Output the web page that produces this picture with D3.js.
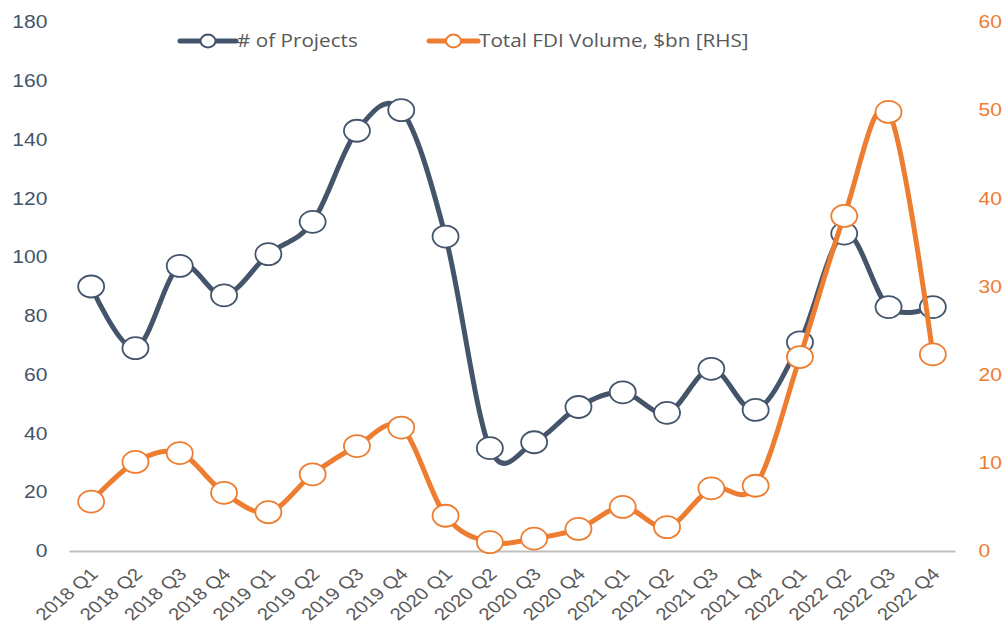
<!DOCTYPE html>
<html>
<head>
    <meta charset="utf-8">
    <style>
        body { margin: 0; background: #fff; }
        svg { display: block; font-family: "Open Sans", sans-serif; }
    </style>
</head>
<body>
    <svg width="1008" height="626"></svg>
    <script src="https://cdn.jsdelivr.net/npm/d3@7"></script>
    <script>

    var quarters = ["2018 Q1", "2018 Q2", "2018 Q3", "2018 Q4",
                    "2019 Q1", "2019 Q2", "2019 Q3", "2019 Q4",
                    "2020 Q1", "2020 Q2", "2020 Q3", "2020 Q4",
                    "2021 Q1", "2021 Q2", "2021 Q3", "2021 Q4",
                    "2022 Q1", "2022 Q2", "2022 Q3", "2022 Q4"];

    var projects = [90, 69, 97, 87, 101, 112, 143, 150, 107, 35,
                    37, 49, 54, 47, 62, 48, 71, 108, 83, 83];

    var fdiVolume = [5.6, 10.1, 11.1, 6.6, 4.4, 8.7, 11.9, 14.0, 4.0, 1.0,
                     1.4, 2.5, 5.0, 2.7, 7.1, 7.4, 22.0, 38.0, 49.8, 22.3];

    var leftTicks = [0, 20, 40, 60, 80, 100, 120, 140, 160, 180],
        rightTicks = [0, 10, 20, 30, 40, 50, 60];

    var seriesNames = ["# of Projects", "Total FDI Volume, $bn [RHS]"];

    var navy = "#44546a",
        orange = "#ed7d31",
        grey = "#595959";

    var svg = d3.select("svg");

    var x = d3.scaleBand().domain(quarters).range([69, 955]),
        yL = d3.scaleLinear().domain([0, 180]).range([551, 22]),
        yR = d3.scaleLinear().domain([0, 60]).range([551, 22]);

    var cx = function(d, i) { return x(quarters[i]) + x.bandwidth() / 2; };

    // left axis
    var gl = svg.append("g")
        .attr("transform", "translate(58,0)")
        .call(d3.axisLeft(yL).tickValues(leftTicks).tickSize(0).tickPadding(9));
    gl.select(".domain").remove();
    gl.selectAll("text")
        .attr("fill", navy)
        .attr("transform", "scale(1.17,1)")
        .style("font-size", "18px");

    // right axis
    var gr = svg.append("g")
        .attr("transform", "translate(968,0)")
        .call(d3.axisRight(yR).tickValues(rightTicks).tickSize(0).tickPadding(9));
    gr.select(".domain").remove();
    gr.selectAll("text")
        .attr("fill", orange)
        .attr("transform", "scale(1.17,1)")
        .style("font-size", "18px");

    // bottom axis
    var gb = svg.append("g")
        .attr("transform", "translate(0,551)")
        .call(d3.axisBottom(x).tickSize(0).tickPadding(0));
    gb.select(".domain")
        .attr("stroke", "#bfbfbf")
        .attr("stroke-width", 2);
    gb.selectAll("text")
        .attr("fill", grey)
        .style("font-size", "17px")
        .attr("text-anchor", "end")
        .attr("y", 0)
        .attr("dy", "0.35em")
        .attr("transform", "translate(3,20) scale(1.2,1) rotate(-45)");

    function drawSeries(values, y, color) {
        var line = d3.line()
            .x(cx)
            .y(function(d) { return y(d); })
            .curve(d3.curveCardinal.tension(0));

        var g = svg.append("g");
        g.append("path")
            .datum(values)
            .attr("fill", "none")
            .attr("stroke", color)
            .attr("stroke-width", 5)
            .attr("stroke-linejoin", "round")
            .attr("d", line);

        g.selectAll("ellipse")
            .data(values)
            .join("ellipse")
            .attr("cx", cx)
            .attr("cy", function(d) { return y(d); })
            .attr("rx", 13)
            .attr("ry", 11)
            .attr("fill", "#fff")
            .attr("stroke", color)
            .attr("stroke-width", 1.8);
    }

    drawSeries(projects, yL, navy);
    drawSeries(fdiVolume, yR, orange);

    // legend
    var legend = [
        { name: seriesNames[0], color: navy, x0: 180, x1: 236 },
        { name: seriesNames[1], color: orange, x0: 429, x1: 478 }
    ];
    var lg = svg.selectAll(".legend")
        .data(legend)
        .join("g")
        .attr("class", "legend");
    lg.append("line")
        .attr("x1", function(d) { return d.x0; })
        .attr("x2", function(d) { return d.x1; })
        .attr("y1", 41).attr("y2", 41)
        .attr("stroke", function(d) { return d.color; })
        .attr("stroke-width", 5)
        .attr("stroke-linecap", "round");
    lg.append("ellipse")
        .attr("cx", function(d) { return (d.x0 + d.x1) / 2; })
        .attr("cy", 41)
        .attr("rx", 7.5).attr("ry", 6.5)
        .attr("fill", "#fff")
        .attr("stroke", function(d) { return d.color; })
        .attr("stroke-width", 2);
    lg.append("text")
        .attr("transform", function(d) { return "translate(" + (d.x1 + 1) + ",41) scale(1.15,1)"; })
        .attr("dy", "0.35em")
        .attr("fill", grey)
        .style("font-size", "18px")
        .text(function(d) { return d.name; });

    </script>
</body>
</html>
